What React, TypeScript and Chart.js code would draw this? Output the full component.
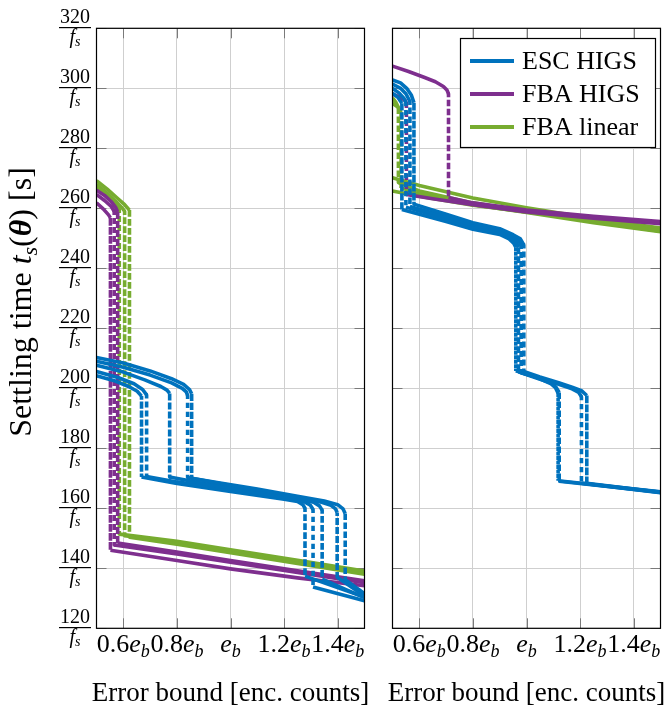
import React, { useEffect, useRef } from "react";
import { Chart, registerables } from "chart.js";

Chart.register(...registerables);

type Pt = [number, number];

// ---- series colours ----
const ESC_BLUE = "#0072BD";
const FBA_PURPLE = "#7E2F8E";
const LIN_GREEN = "#77AC30";

// ---- axes ----
const xTicks = [0.6, 0.8, 1.0, 1.2, 1.4];
const xTickCoeffs = ["0.6", "0.8", "", "1.2", "1.4"];
const yTicks = [120, 140, 160, 180, 200, 220, 240, 260, 280, 300, 320];
const xTitle = "Error bound [enc. counts]";
const legendLabels = ["ESC HIGS", "FBA HIGS", "FBA linear"];

// ---- left panel: settling time vs error bound (x in units of e_b, y in units of 1/f_s) ----
// consecutive points sharing the same x form a vertical step, drawn dotted
const escL1: Pt[] = [
  [0.5, 210.3], [0.6, 208.4], [0.7, 205.8], [0.78, 203.2], [0.825, 201.3], [0.847, 199.6], [0.855, 198.2],
  [0.855, 170.0], [0.95, 168.6], [1.1, 166.4], [1.25, 164.0], [1.35, 162.4], [1.4, 161.2], [1.42, 159.8], [1.428, 158.3],
  [1.428, 136.2], [1.5, 131.6],
];
const escL2: Pt[] = [
  [0.5, 209.0], [0.6, 207.0], [0.7, 204.4], [0.78, 201.8], [0.82, 200.0], [0.835, 198.8], [0.84, 197.6],
  [0.84, 170.3], [0.95, 168.4], [1.1, 166.0], [1.25, 163.6], [1.34, 162.0], [1.375, 161.0], [1.392, 159.8], [1.398, 158.6],
  [1.398, 137.0], [1.5, 130.8],
];
const escL3: Pt[] = [
  [0.5, 207.7], [0.6, 205.4], [0.68, 202.8], [0.74, 200.6], [0.763, 199.4], [0.773, 198.3],
  [0.773, 170.4], [0.9, 168.3], [1.1, 165.3], [1.25, 163.1], [1.31, 162.0], [1.332, 160.8], [1.342, 159.4],
  [1.342, 136.4], [1.5, 130.2],
];
const escL4: Pt[] = [
  [0.5, 205.6], [0.58, 203.6], [0.64, 201.5], [0.672, 199.6], [0.687, 197.8],
  [0.687, 170.6], [0.8, 168.8], [1.0, 166.1], [1.2, 163.3], [1.275, 162.2], [1.298, 161.0], [1.308, 159.6],
  [1.308, 133.8], [1.5, 129.2],
];
const escL5: Pt[] = [
  [0.5, 204.2], [0.57, 202.4], [0.62, 200.6], [0.652, 199.0], [0.668, 197.4],
  [0.668, 170.4], [0.8, 168.3], [1.0, 165.6], [1.2, 163.0], [1.25, 162.3], [1.27, 161.2], [1.278, 160.0],
  [1.278, 137.4], [1.5, 130.4],
];

const fbaL1: Pt[] = [
  [0.5, 266.0], [0.53, 264.3], [0.555, 262.2], [0.572, 260.2], [0.579, 258.8],
  [0.579, 148.4], [0.8, 145.4], [1.0, 142.6], [1.25, 139.2], [1.5, 135.8],
];
const fbaL2: Pt[] = [
  [0.5, 264.6], [0.53, 262.6], [0.555, 260.6], [0.566, 259.0],
  [0.566, 147.8], [0.8, 144.8], [1.0, 142.0], [1.25, 138.6], [1.5, 135.2],
];
const fbaL3: Pt[] = [
  [0.5, 261.8], [0.525, 259.8], [0.545, 257.8], [0.552, 256.8],
  [0.552, 146.0], [0.8, 142.6], [1.0, 139.8], [1.25, 136.8], [1.5, 134.2],
];

const linL1: Pt[] = [
  [0.5, 269.2], [0.54, 266.4], [0.575, 263.6], [0.605, 261.2], [0.623, 259.4],
  [0.623, 150.4], [0.8, 148.0], [1.0, 145.2], [1.25, 141.6], [1.5, 138.0],
];
const linL2: Pt[] = [
  [0.5, 268.0], [0.54, 265.0], [0.57, 262.4], [0.595, 260.2], [0.605, 259.0],
  [0.605, 150.9], [0.8, 148.5], [1.0, 145.7], [1.25, 142.2], [1.5, 138.6],
];
const linL3: Pt[] = [
  [0.5, 267.0], [0.535, 264.2], [0.565, 261.6], [0.585, 259.6],
  [0.585, 151.4], [0.8, 149.0], [1.0, 146.2], [1.25, 142.7], [1.5, 139.1],
];

// ---- right panel ----
const escR1: Pt[] = [
  [0.5, 302.8], [0.53, 301.8], [0.553, 300.0], [0.57, 297.8], [0.58, 295.2],
  [0.58, 261.4], [0.7, 258.0], [0.8, 255.2], [0.9, 253.2], [0.95, 251.2], [0.977, 249.8], [0.99, 247.8],
  [0.99, 205.6], [1.05, 203.8], [1.12, 201.9], [1.17, 200.4], [1.205, 199.2], [1.225, 197.6],
  [1.225, 168.3], [1.5, 165.3],
];
const escR2: Pt[] = [
  [0.5, 301.4], [0.53, 300.0], [0.55, 298.2], [0.565, 295.6],
  [0.565, 260.6], [0.7, 257.2], [0.8, 254.5], [0.9, 252.6], [0.95, 250.5], [0.97, 249.2], [0.98, 247.6],
  [0.98, 205.2], [1.05, 203.3], [1.12, 201.3], [1.17, 199.8], [1.195, 198.6], [1.205, 197.2],
  [1.205, 168.4], [1.5, 165.2],
];
const escR3: Pt[] = [
  [0.5, 300.0], [0.525, 298.4], [0.543, 296.6], [0.55, 295.2],
  [0.55, 260.4], [0.7, 256.4], [0.8, 253.7], [0.9, 251.9], [0.94, 250.2], [0.962, 248.6], [0.97, 247.0],
  [0.97, 205.5], [1.04, 203.3], [1.09, 201.8], [1.11, 200.4], [1.122, 198.6],
  [1.122, 169.0], [1.5, 165.4],
];
const escR4: Pt[] = [
  [0.5, 298.4], [0.52, 297.0], [0.535, 295.0],
  [0.535, 259.6], [0.7, 255.6], [0.8, 253.0], [0.9, 251.3], [0.935, 249.8], [0.952, 248.4], [0.96, 247.0],
  [0.96, 205.8], [1.04, 203.6], [1.09, 201.6], [1.108, 200.2], [1.118, 198.4],
  [1.118, 169.2], [1.5, 165.5],
];

const fbaR1: Pt[] = [
  [0.5, 307.4], [0.56, 305.6], [0.62, 303.6], [0.66, 302.2], [0.69, 300.6], [0.703, 299.4], [0.709, 298.2],
  [0.709, 263.6], [0.8, 261.8], [1.0, 259.4], [1.25, 257.3], [1.5, 255.6],
];
const fbaR2: Pt[] = [
  [0.5, 298.0], [0.53, 297.0], [0.552, 295.6],
  [0.552, 264.6], [0.65, 263.2], [0.8, 261.2], [1.0, 258.8], [1.25, 256.7], [1.5, 254.9],
];

const linR1: Pt[] = [
  [0.5, 296.8], [0.512, 295.4], [0.522, 293.6],
  [0.522, 268.6], [0.6, 265.8], [0.8, 261.8], [1.0, 259.0], [1.25, 255.6], [1.5, 252.4],
];
const linR2: Pt[] = [
  [0.5, 295.0], [0.52, 293.8], [0.532, 292.0],
  [0.532, 266.8], [0.6, 264.8], [0.8, 261.2], [1.0, 258.6], [1.25, 255.2], [1.5, 252.2],
];
const linR3: Pt[] = [[0.5, 270.2], [0.6, 267.6], [0.8, 263.4], [1.0, 260.2], [1.25, 256.6], [1.5, 253.4]];
const linR4: Pt[] = [[0.5, 265.8], [0.6, 264.0], [0.8, 261.0], [1.0, 258.8], [1.25, 255.8], [1.5, 252.8]];

// first entries are painted last (on top)
const leftSeries: { pts: Pt[]; color: string }[] = [
  ...[escL1, escL2, escL3, escL4, escL5].map((pts) => ({ pts, color: ESC_BLUE })),
  ...[fbaL1, fbaL2, fbaL3].map((pts) => ({ pts, color: FBA_PURPLE })),
  ...[linL1, linL2, linL3].map((pts) => ({ pts, color: LIN_GREEN })),
];
const rightSeries: { pts: Pt[]; color: string }[] = [
  ...[escR1, escR2, escR3, escR4].map((pts) => ({ pts, color: ESC_BLUE })),
  ...[fbaR1, fbaR2].map((pts) => ({ pts, color: FBA_PURPLE })),
  ...[linR1, linR2, linR3, linR4].map((pts) => ({ pts, color: LIN_GREEN })),
];
const legendColors = [ESC_BLUE, FBA_PURPLE, LIN_GREEN];

const SERIF = '"Liberation Serif", "Times New Roman", serif';
const GRID = "#cfcfcf";
const TICK = "#7a7a7a";

type Run = { text: string; font: string; dy?: number };

function runsWidth(ctx: CanvasRenderingContext2D, runs: Run[]) {
  let w = 0;
  for (const r of runs) {
    ctx.font = r.font;
    w += ctx.measureText(r.text).width;
  }
  return w;
}

function drawRuns(ctx: CanvasRenderingContext2D, runs: Run[], cx: number, y: number) {
  let x = cx - runsWidth(ctx, runs) / 2;
  ctx.textAlign = "left";
  for (const r of runs) {
    ctx.font = r.font;
    ctx.fillText(r.text, x, y + (r.dy || 0));
    x += ctx.measureText(r.text).width;
  }
}

function decorations(panel: "left" | "right") {
  return {
    id: "decor-" + panel,
    beforeDatasetsDraw(chart: any) {
      const { ctx, chartArea: a, scales } = chart;
      ctx.save();
      ctx.strokeStyle = TICK;
      ctx.lineWidth = 1;
      ctx.beginPath();
      for (const v of xTicks) {
        const px = Math.round(scales.x.getPixelForValue(v)) + 0.5;
        ctx.moveTo(px, a.bottom);
        ctx.lineTo(px, a.bottom - 10);
        ctx.moveTo(px, a.top);
        ctx.lineTo(px, a.top + 10);
      }
      for (const v of yTicks) {
        const py = Math.round(scales.y.getPixelForValue(v)) + 0.5;
        ctx.moveTo(a.left, py);
        ctx.lineTo(a.left + 10, py);
        ctx.moveTo(a.right, py);
        ctx.lineTo(a.right - 10, py);
      }
      ctx.stroke();
      ctx.restore();
    },
    afterDraw(chart: any) {
      const { ctx, chartArea: a, scales } = chart;
      ctx.save();
      ctx.fillStyle = "#000";
      ctx.textBaseline = "alphabetic";

      // frame
      ctx.strokeStyle = "#000";
      ctx.lineWidth = 1.2;
      ctx.strokeRect(a.left, a.top, a.right - a.left, a.bottom - a.top);

      // x tick labels: <coeff> e_b
      xTicks.forEach((v, i) => {
        const cx = scales.x.getPixelForValue(v);
        drawRuns(
          ctx,
          [
            { text: xTickCoeffs[i], font: `26px ${SERIF}` },
            { text: "e", font: `italic 26px ${SERIF}` },
            { text: "b", font: `italic 18px ${SERIF}`, dy: 5 },
          ],
          cx,
          652
        );
      });

      // x title
      drawRuns(ctx, [{ text: xTitle, font: `27px ${SERIF}` }], (a.left + a.right) / 2, 701);

      if (panel === "left") {
        // y tick labels: value / f_s
        for (const v of yTicks) {
          const py = scales.y.getPixelForValue(v);
          const cx = 75;
          const num = String(v);
          ctx.font = `20px ${SERIF}`;
          const w = ctx.measureText(num).width;
          drawRuns(ctx, [{ text: num, font: `20px ${SERIF}` }], cx, py - 5);
          ctx.fillRect(cx - w / 2 - 1, Math.round(py) - 1, w + 2, 1.2);
          drawRuns(
            ctx,
            [
              { text: "f", font: `italic 20px ${SERIF}` },
              { text: "s", font: `italic 14px ${SERIF}`, dy: 3 },
            ],
            cx,
            py + 15
          );
        }
        // y title
        ctx.save();
        ctx.translate(31, 302);
        ctx.rotate(-Math.PI / 2);
        drawRuns(
          ctx,
          [
            { text: "Settling time ", font: `32px ${SERIF}` },
            { text: "t", font: `italic 32px ${SERIF}` },
            { text: "s", font: `italic 22px ${SERIF}`, dy: 6 },
            { text: "(", font: `32px ${SERIF}` },
            { text: "\u03B8", font: `italic bold 32px ${SERIF}` },
            { text: ") [s]", font: `32px ${SERIF}` },
          ],
          0,
          0
        );
        ctx.restore();
      } else {
        // legend box
        const bx = 460.5, by = 38.5, bw = 195, bh = 109;
        ctx.fillStyle = "#fff";
        ctx.fillRect(bx, by, bw, bh);
        ctx.strokeStyle = "#000";
        ctx.lineWidth = 1.2;
        ctx.strokeRect(bx, by, bw, bh);
        const rows = [61, 94, 127];
        legendLabels.forEach((label, i) => {
          ctx.strokeStyle = legendColors[i];
          ctx.lineWidth = 4;
          ctx.beginPath();
          ctx.moveTo(470, rows[i]);
          ctx.lineTo(514, rows[i]);
          ctx.stroke();
          ctx.fillStyle = "#000";
          ctx.font = `26px ${SERIF}`;
          ctx.textAlign = "left";
          ctx.fillText(label, 522, rows[i] + 8);
        });
      }
      ctx.restore();
    },
  };
}

function makeConfig(panel: "left" | "right"): any {
  const series = panel === "left" ? leftSeries : rightSeries;
  const padding =
    panel === "left"
      ? { left: 96.5, right: 299.5, top: 28.3, bottom: 77.7 }
      : { left: 392.5, right: 3.5, top: 28.3, bottom: 77.7 };
  return {
    type: "line",
    data: {
      datasets: series.map((s) => ({
        data: s.pts.map(([x, y]) => ({ x, y })),
        borderColor: s.color,
        borderWidth: 3.6,
        pointRadius: 0,
        tension: 0,
        fill: false,
        borderJoinStyle: "round",
        borderCapStyle: "butt",
        segment: {
          borderDash: (c: any) => (Math.abs(c.p0.x - c.p1.x) < 0.01 ? [3.6, 5.4] : []),
        },
      })),
    },
    options: {
      animation: false,
      responsive: false,
      events: [],
      layout: { autoPadding: false, padding },
      plugins: { legend: { display: false }, tooltip: { enabled: false } },
      scales: {
        x: {
          type: "linear",
          min: 0.5,
          max: 1.5,
          afterBuildTicks: (s: any) => {
            s.ticks = xTicks.map((value) => ({ value }));
          },
          ticks: { display: false },
          grid: { color: GRID, lineWidth: 1, drawTicks: false },
          border: { display: false },
        },
        y: {
          type: "linear",
          min: 120,
          max: 320,
          afterBuildTicks: (s: any) => {
            s.ticks = yTicks.map((value) => ({ value }));
          },
          ticks: { display: false },
          grid: { color: GRID, lineWidth: 1, drawTicks: false },
          border: { display: false },
        },
      },
    },
    plugins: [decorations(panel)],
  };
}

export default function App() {
  const leftRef = useRef<HTMLCanvasElement>(null);
  const rightRef = useRef<HTMLCanvasElement>(null);

  useEffect(() => {
    const charts = [
      new Chart(leftRef.current as HTMLCanvasElement, makeConfig("left")),
      new Chart(rightRef.current as HTMLCanvasElement, makeConfig("right")),
    ];
    return () => charts.forEach((c) => c.destroy());
  }, []);

  return (
    <div style={{ position: "absolute", left: 0, top: 0, width: 664, height: 706, background: "#fff" }}>
      <canvas ref={leftRef} width={664} height={706} style={{ position: "absolute", left: 0, top: 0 }} />
      <canvas ref={rightRef} width={664} height={706} style={{ position: "absolute", left: 0, top: 0 }} />
    </div>
  );
}
